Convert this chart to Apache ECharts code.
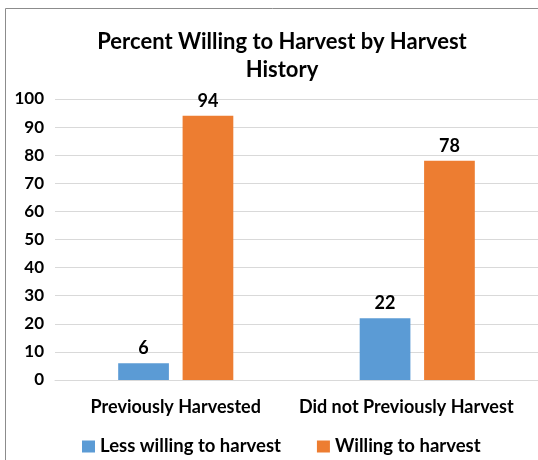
<!DOCTYPE html>
<html><head><meta charset="utf-8">
<script src="https://cdn.jsdelivr.net/npm/echarts@6/dist/echarts.min.js"></script>
<style>html,body{margin:0;padding:0;background:#fff}#c{width:538px;height:460px}</style>
</head><body><div id="c"></div>
<script>
const categories = ["Previously Harvested", "Did not Previously Harvest"];
const lessWilling = [6, 22];
const willing = [94, 78];
const seriesNames = ["Less willing to harvest", "Willing to harvest"];
const font = "Lato, 'Open Sans', sans-serif";
const chart = echarts.init(document.getElementById('c'), null, {renderer: 'canvas'});
const lbl = {show: true, position: 'top', distance: 6, fontFamily: font, fontWeight: 'bold', fontSize: 18, color: '#000'};
chart.setOption({
  animation: false,
  graphic: [{type: 'rect', shape: {x: 5.5, y: 8.5, width: 700, height: 700}, style: {fill: 'none', stroke: '#8c8c8c', lineWidth: 1}}],
  title: {text: "Percent Willing to Harvest by Harvest\nHistory", left: 277, textAlign: 'center', top: 23,
    textStyle: {fontFamily: font, fontWeight: 'bold', fontSize: 22, color: '#000', lineHeight: 28}},
  legend: {top: 432, left: 77, itemWidth: 13, itemHeight: 12, itemGap: 36, icon: 'rect',
    textStyle: {fontFamily: font, fontWeight: 'bold', fontSize: 18.5, color: '#000'}},
  grid: {left: 55, right: 0, top: 99, bottom: 80},
  xAxis: {type: 'category', data: categories, axisTick: {show: false},
    axisLine: {lineStyle: {color: '#d9d9d9'}},
    axisLabel: {interval: 0, fontFamily: font, fontWeight: 'bold', fontSize: 18, color: '#000', margin: 18,
      formatter: function (v, i) { return i === 1 ? '{b|' + v + '}' : v; },
      rich: {b: {fontFamily: font, fontWeight: 'bold', fontSize: 18, color: '#000', padding: [0, 22, 0, 0]}}}},
  yAxis: {type: 'value', min: 0, max: 100, interval: 10,
    axisLine: {show: false}, axisTick: {show: false},
    splitLine: {lineStyle: {color: '#d9d9d9'}},
    axisLabel: {fontFamily: font, fontWeight: 'bold', fontSize: 17, color: '#000', margin: 11}},
  series: [
    {name: seriesNames[0], type: 'bar', data: lessWilling, barWidth: '21%', barGap: '27%',
      itemStyle: {color: '#5B9BD5'}, label: lbl},
    {name: seriesNames[1], type: 'bar', data: willing, barWidth: '21%',
      itemStyle: {color: '#ED7D31'}, label: lbl}
  ]
});
</script></body></html>
